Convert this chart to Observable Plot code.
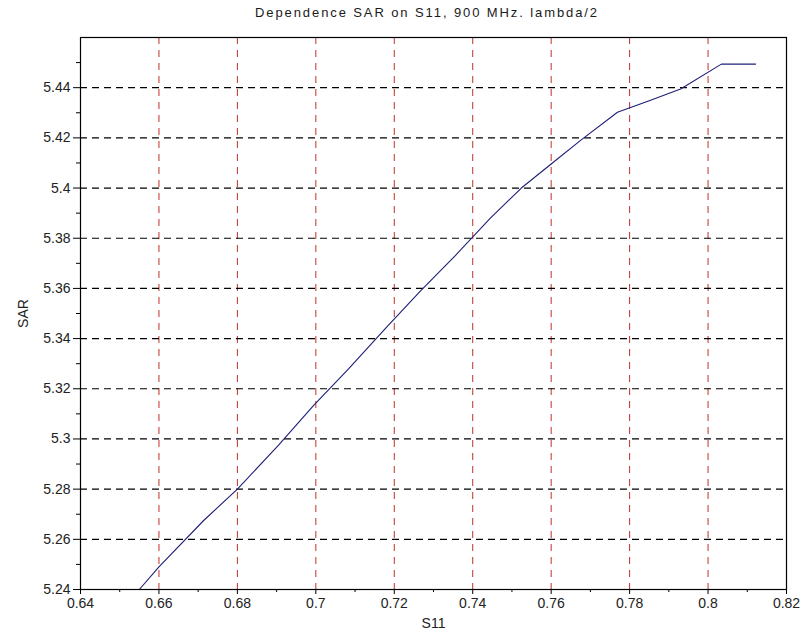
<!DOCTYPE html>
<html>
<head>
<meta charset="utf-8">
<script src="https://cdn.jsdelivr.net/npm/d3@7"></script>
<script src="https://cdn.jsdelivr.net/npm/@observablehq/plot@0.6"></script>
<style>
  body { margin: 0; background: #fff; }
  #title { box-sizing: border-box; height: 24px; padding-top: 6px; line-height: 14px; font-family: "Liberation Sans", Arial, sans-serif; font-size: 13px; letter-spacing: 1.9px; color: #1a1a1a; text-align: center; padding-left: 48px; width: 806px; }
  #chart { height: 618px; }
</style>
</head>
<body>
<div id="title">Dependence SAR on S11, 900 MHz. lambda/2</div>
<div id="chart"></div>
<script>
const s11 = [0.655, 0.660, 0.6714, 0.680, 0.6905, 0.6995, 0.7084, 0.7177, 0.7267, 0.7355, 0.7445, 0.7524, 0.760, 0.7675, 0.7769, 0.785, 0.793, 0.8034, 0.8121];
const sar = [5.240, 5.249, 5.2675, 5.280, 5.2975, 5.3135, 5.328, 5.344, 5.359, 5.373, 5.388, 5.400, 5.4096, 5.419, 5.4302, 5.4348, 5.4395, 5.4494, 5.4494];
const xTicks = [0.64, 0.66, 0.68, 0.70, 0.72, 0.74, 0.76, 0.78, 0.80, 0.82];
const yTicks = [5.24, 5.26, 5.28, 5.30, 5.32, 5.34, 5.36, 5.38, 5.40, 5.42, 5.44];
const xMinor = [0.65, 0.67, 0.69, 0.71, 0.73, 0.75, 0.77, 0.79, 0.81];
const yMinor = [5.25, 5.27, 5.29, 5.31, 5.33, 5.35, 5.37, 5.39, 5.41, 5.43, 5.45];
const xGrid = [0.66, 0.68, 0.70, 0.72, 0.74, 0.76, 0.78, 0.80];
const yGrid = [5.26, 5.28, 5.30, 5.32, 5.34, 5.36, 5.38, 5.40, 5.42, 5.44];

const data = s11.map((x, i) => ({x, y: sar[i]}));
const fmt = d => String(+d.toFixed(2));

const chart = Plot.plot({
  width: 806,
  height: 618,
  marginLeft: 80,
  marginRight: 20,
  marginTop: 13,
  marginBottom: 53,
  style: { fontFamily: "'Liberation Sans', Arial, sans-serif", fontSize: "14px", color: "#222", background: "#fff" },
  x: { domain: [0.64, 0.82] },
  y: { domain: [5.24, 5.46] },
  marks: [
    Plot.ruleX(xGrid, { stroke: "#c0302a", strokeDasharray: "7,6", strokeWidth: 1 }),
    Plot.ruleY(yGrid, { stroke: "#000", strokeDasharray: "7,5", strokeWidth: 1.2 }),
    Plot.line(data, { x: "x", y: "y", stroke: "#1e1e78", strokeWidth: 1.1 }),
    Plot.axisX(xTicks, { tickSize: 5, tickPadding: 4, tickFormat: fmt, label: "S11", labelAnchor: "center", labelOffset: 38, labelArrow: "none", stroke: "#000" }),
    Plot.axisX(xMinor, { tickSize: 3, tickFormat: () => "", label: null, stroke: "#000" }),
    Plot.axisY(yTicks, { tickSize: 7, tickPadding: 3, tickFormat: fmt, label: "SAR", labelAnchor: "center", labelOffset: 62, labelArrow: "none", stroke: "#000" }),
    Plot.axisY(yMinor, { tickSize: 4, tickFormat: () => "", label: null, stroke: "#000" }),
    Plot.frame({ stroke: "#000", strokeWidth: 1.2 })
  ]
});
document.getElementById("chart").append(chart);
</script>
</body>
</html>
